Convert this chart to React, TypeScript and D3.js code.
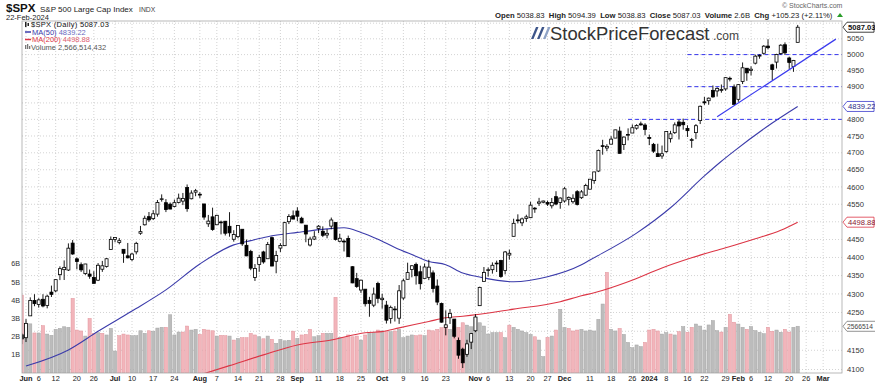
import React from 'react';
import * as d3 from 'd3';

// market holidays inside the window
const holidays = ['2023-06-19', '2023-07-04', '2023-09-04', '2023-11-23', '2023-12-25', '2024-01-01', '2024-01-15', '2024-02-19'];
const firstDay = '2023-05-31';
const calendarEnd = '2024-03-08';
const prevClose = 4205.5; // May 30 close, colours the first volume bar

// daily [open, high, low, close]
const may23 = [[4190.7, 4195.4, 4166.2, 4179.8]];
const jun23 = [
  [4183.0, 4232.4, 4171.6, 4221.0], [4241.0, 4290.7, 4241.0, 4282.4], [4282.0, 4299.3, 4266.8, 4273.8],
  [4271.3, 4288.3, 4263.1, 4283.9], [4285.5, 4299.2, 4263.9, 4267.5], [4268.7, 4298.0, 4261.1, 4293.9],
  [4304.9, 4322.6, 4291.7, 4298.9], [4308.3, 4340.1, 4304.4, 4338.9], [4352.6, 4375.4, 4337.7, 4369.0],
  [4366.3, 4391.8, 4337.9, 4372.6], [4365.3, 4439.2, 4362.6, 4425.8], [4440.0, 4448.5, 4407.4, 4409.6],
  [4396.1, 4400.1, 4367.2, 4388.7], [4380.0, 4386.2, 4360.1, 4365.7], [4355.4, 4382.3, 4351.8, 4381.9],
  [4354.2, 4366.6, 4341.3, 4348.3], [4344.8, 4362.1, 4328.1, 4328.8], [4337.4, 4384.4, 4335.0, 4378.4],
  [4367.5, 4390.4, 4360.2, 4376.9], [4374.9, 4398.4, 4371.9, 4396.4], [4422.4, 4458.5, 4422.4, 4450.4],
];
const jul23 = [
  [4450.5, 4456.5, 4442.3, 4455.6], [4442.0, 4454.1, 4436.6, 4446.8], [4422.6, 4422.6, 4385.1, 4411.6],
  [4404.5, 4440.4, 4397.4, 4399.0], [4394.2, 4412.6, 4389.9, 4409.5], [4415.6, 4443.6, 4408.5, 4439.3],
  [4467.7, 4488.3, 4463.2, 4472.2], [4491.5, 4517.4, 4489.4, 4510.0], [4514.6, 4527.8, 4499.6, 4505.4],
  [4508.9, 4532.9, 4504.9, 4522.8], [4521.8, 4562.3, 4514.6, 4555.0], [4563.9, 4578.4, 4557.5, 4565.7],
  [4554.4, 4564.7, 4527.6, 4534.9], [4550.2, 4555.0, 4535.8, 4536.3], [4543.4, 4563.4, 4541.3, 4554.6],
  [4555.2, 4580.6, 4552.4, 4567.5], [4559.0, 4582.5, 4547.6, 4566.8], [4598.3, 4607.1, 4528.6, 4537.4],
  [4565.8, 4590.2, 4564.0, 4582.2], [4584.8, 4594.2, 4573.1, 4589.0],
];
const aug23 = [
  [4578.8, 4584.6, 4567.5, 4576.7], [4550.9, 4550.9, 4505.8, 4513.4], [4494.3, 4519.5, 4485.5, 4501.9],
  [4514.0, 4540.3, 4474.6, 4478.0], [4491.6, 4519.8, 4491.2, 4518.4], [4498.0, 4503.3, 4464.4, 4499.4],
  [4501.6, 4502.4, 4461.3, 4467.7], [4487.2, 4527.4, 4457.9, 4468.8], [4450.7, 4476.2, 4444.0, 4464.1],
  [4458.1, 4490.3, 4453.4, 4489.7], [4478.9, 4478.9, 4432.2, 4437.9], [4433.8, 4450.0, 4403.6, 4404.3],
  [4416.3, 4421.2, 4364.8, 4370.4], [4344.9, 4381.8, 4335.3, 4369.7], [4380.3, 4407.5, 4360.3, 4399.8],
  [4415.3, 4418.6, 4382.8, 4387.6], [4396.4, 4443.2, 4396.4, 4436.0], [4455.2, 4458.3, 4375.6, 4376.3],
  [4389.4, 4418.5, 4356.3, 4405.7], [4426.0, 4439.6, 4415.0, 4433.3], [4432.8, 4500.1, 4431.7, 4497.6],
  [4500.3, 4521.7, 4493.6, 4514.9], [4517.0, 4532.3, 4507.4, 4507.7],
];
const sep23 = [
  [4530.6, 4541.3, 4501.4, 4515.8], [4510.1, 4514.3, 4496.0, 4496.8], [4490.4, 4490.4, 4442.4, 4465.5],
  [4434.6, 4457.8, 4430.5, 4451.1], [4451.3, 4473.5, 4448.4, 4457.5], [4481.0, 4490.8, 4467.9, 4487.5],
  [4473.3, 4487.1, 4456.8, 4461.9], [4462.7, 4479.4, 4453.5, 4467.4], [4487.8, 4512.0, 4478.7, 4505.1],
  [4498.0, 4498.0, 4447.2, 4450.3], [4445.1, 4466.4, 4442.1, 4453.5], [4445.4, 4449.9, 4416.6, 4444.0],
  [4452.8, 4461.0, 4401.4, 4402.2], [4374.4, 4375.7, 4329.2, 4330.0], [4341.7, 4357.4, 4316.5, 4320.1],
  [4310.6, 4338.5, 4302.7, 4337.4], [4312.9, 4313.0, 4266.0, 4273.5], [4282.6, 4292.1, 4238.6, 4274.5],
  [4269.7, 4317.3, 4264.4, 4299.7], [4328.2, 4333.2, 4274.9, 4288.1],
];
const oct23 = [
  [4284.5, 4300.6, 4260.2, 4288.4], [4269.8, 4281.2, 4220.5, 4229.5], [4233.8, 4268.5, 4220.5, 4263.8],
  [4259.3, 4267.1, 4225.9, 4258.2], [4234.8, 4324.1, 4219.6, 4308.5], [4289.0, 4341.7, 4283.8, 4335.7],
  [4339.8, 4385.5, 4339.6, 4358.2], [4366.6, 4378.6, 4345.3, 4377.0], [4380.9, 4385.9, 4325.4, 4349.6],
  [4360.5, 4377.1, 4312.0, 4327.8], [4342.4, 4383.3, 4342.4, 4373.6], [4345.2, 4393.6, 4337.5, 4373.2],
  [4357.4, 4364.2, 4303.8, 4314.6], [4321.4, 4339.5, 4269.7, 4278.0], [4273.9, 4276.6, 4223.0, 4224.2],
  [4210.4, 4255.8, 4189.2, 4217.0], [4235.8, 4259.4, 4219.4, 4247.7], [4232.4, 4232.4, 4181.4, 4186.8],
  [4176.0, 4183.6, 4127.9, 4137.2], [4152.9, 4156.7, 4103.8, 4117.4], [4139.4, 4177.5, 4132.9, 4166.8],
  [4171.3, 4195.6, 4153.1, 4193.8],
];
const nov23 = [
  [4201.3, 4245.6, 4197.7, 4237.9], [4268.3, 4319.7, 4268.3, 4317.8], [4334.2, 4373.6, 4334.2, 4358.3],
  [4364.3, 4372.2, 4347.5, 4366.0], [4366.2, 4386.3, 4355.4, 4378.4], [4384.4, 4391.2, 4359.8, 4382.8],
  [4391.4, 4393.4, 4343.9, 4347.4], [4364.2, 4418.0, 4353.3, 4415.2], [4406.7, 4421.8, 4393.8, 4411.6],
  [4459.0, 4508.7, 4459.0, 4495.7], [4505.3, 4521.2, 4495.3, 4502.9], [4497.1, 4512.0, 4487.8, 4508.2],
  [4509.6, 4520.1, 4499.7, 4514.0], [4511.7, 4557.1, 4510.4, 4547.4], [4538.8, 4542.1, 4525.5, 4538.2],
  [4553.0, 4568.4, 4545.1, 4556.6], [4555.8, 4560.3, 4552.8, 4559.3], [4554.9, 4560.5, 4545.2, 4550.4],
  [4545.6, 4568.1, 4537.9, 4554.9], [4571.8, 4587.6, 4547.2, 4550.6], [4554.9, 4569.9, 4537.2, 4567.8],
];
const dec23 = [
  [4559.4, 4599.4, 4554.7, 4594.6], [4564.4, 4572.4, 4546.7, 4569.8], [4557.3, 4578.6, 4551.7, 4567.2],
  [4586.2, 4590.7, 4546.5, 4549.3], [4568.8, 4590.9, 4565.2, 4585.6], [4576.2, 4609.2, 4574.1, 4604.4],
  [4593.4, 4623.0, 4593.4, 4622.4], [4618.3, 4643.9, 4609.0, 4643.7], [4646.2, 4709.7, 4643.2, 4707.1],
  [4721.0, 4738.6, 4694.3, 4719.6], [4714.2, 4725.5, 4704.7, 4719.2], [4725.6, 4749.5, 4725.6, 4740.6],
  [4743.7, 4768.7, 4743.7, 4768.4], [4764.7, 4778.0, 4697.8, 4698.4], [4724.3, 4748.7, 4708.4, 4746.8],
  [4753.9, 4772.9, 4736.8, 4754.6], [4758.9, 4784.7, 4758.9, 4774.8], [4773.5, 4785.4, 4768.9, 4781.6],
  [4786.4, 4793.3, 4781.0, 4783.4], [4782.9, 4788.4, 4752.0, 4769.8],
];
const jan24 = [
  [4745.2, 4754.3, 4722.7, 4742.8], [4725.1, 4729.3, 4699.7, 4704.8], [4697.4, 4726.8, 4687.5, 4688.7],
  [4690.6, 4721.5, 4682.1, 4697.2], [4703.7, 4764.5, 4699.8, 4763.5], [4741.9, 4765.5, 4730.4, 4756.5],
  [4759.9, 4790.8, 4756.2, 4783.5], [4792.1, 4798.5, 4739.6, 4780.2], [4791.2, 4802.4, 4769.0, 4783.8],
  [4772.4, 4782.3, 4747.1, 4766.0], [4739.1, 4744.2, 4714.8, 4739.2], [4760.1, 4785.8, 4740.6, 4780.9],
  [4796.3, 4842.1, 4785.9, 4839.8], [4853.4, 4868.4, 4844.1, 4850.4], [4856.8, 4866.5, 4844.4, 4864.6],
  [4888.6, 4903.7, 4865.9, 4868.6], [4886.7, 4898.2, 4869.3, 4894.2], [4888.9, 4906.7, 4881.5, 4891.0],
  [4893.0, 4929.3, 4887.4, 4927.9], [4925.9, 4931.1, 4916.3, 4925.0], [4899.2, 4906.8, 4845.2, 4845.7],
];
const feb24 = [
  [4861.1, 4907.0, 4853.5, 4906.2], [4916.1, 4975.3, 4908.0, 4958.6], [4957.2, 4957.2, 4918.1, 4942.8],
  [4950.2, 4963.1, 4934.9, 4954.2], [4973.1, 4999.9, 4969.1, 4995.1], [4995.2, 5000.4, 4987.1, 4997.9],
  [5004.2, 5030.1, 5000.3, 5026.6], [5026.8, 5048.4, 5016.3, 5021.8], [4967.9, 4971.3, 4920.3, 4953.2],
  [4976.4, 5002.5, 4956.4, 5000.6], [5003.1, 5032.7, 4999.4, 5029.7], [5031.1, 5038.7, 4999.5, 5005.6],
  [4989.3, 4993.7, 4955.0, 4975.5], [4963.0, 4983.2, 4946.0, 4981.8], [5038.8, 5094.4, 5038.8, 5087.0],
];

// volume, billions of shares
const volMay = [4.28];
const volJun = [2.7, 2.7, 2.2, 2.2, 2.6, 2.14, 2.07, 2.4, 2.45, 2.54, 2.51, 4.1, 2.36, 2.31, 2.03, 3.0, 2.18, 2.22, 2.18, 2.09, 2.45];
const volJul = [1.21, 2.05, 2.14, 2.09, 2.05, 2.05, 2.32, 2.18, 2.32, 2.29, 2.47, 2.51, 2.51, 3.2, 2.09, 2.25, 2.25, 2.58, 2.36, 2.4];
const volAug = [2.12, 2.4, 2.36, 2.32, 2.03, 2.07, 2.05, 2.03, 1.81, 1.9, 1.94, 1.94, 2.18, 2.09, 1.99, 1.88, 2.03, 1.85, 1.63, 1.85, 1.77, 1.8, 2.3];
const volSep = [1.9, 2.09, 2.12, 2.4, 1.99, 2.05, 2.18, 2.18, 2.18, 4.16, 1.94, 1.94, 2.09, 1.99, 2.03, 1.81, 2.09, 2.18, 2.22, 2.36];
const volOct = [2.31, 2.27, 2.27, 2.31, 2.4, 1.94, 2.03, 2.09, 2.05, 2.09, 2.05, 2.36, 2.32, 2.4, 2.49, 2.58, 2.4, 2.54, 2.51, 2.76, 2.63, 2.54];
const volNov = [3.04, 2.76, 2.58, 2.14, 2.22, 2.22, 2.22, 1.94, 2.63, 2.51, 2.4, 2.31, 2.22, 2.12, 1.99, 1.81, 0.9, 1.96, 2.03, 2.36, 3.5];
const volDec = [2.5, 2.45, 2.31, 2.36, 2.4, 2.31, 2.36, 2.31, 2.95, 3.79, 5.53, 2.4, 2.31, 2.45, 2.12, 1.68, 1.39, 1.54, 1.45, 1.68];
const volJan = [2.36, 2.4, 2.31, 2.14, 2.22, 2.14, 2.09, 2.27, 2.55, 2.24, 2.51, 2.69, 2.58, 2.36, 2.64, 2.88, 2.33, 2.25, 2.51, 3.22, 2.79];
const volFeb = [2.69, 2.51, 2.4, 2.55, 2.33, 2.24, 2.16, 2.51, 2.29, 2.36, 2.24, 2.4, 2.25, 2.51, 2.57];

// moving averages
const ma50Dates = ['2023-06-01', '2023-06-15', '2023-06-27', '2023-07-10', '2023-07-20', '2023-08-01', '2023-08-11', '2023-08-17',
  '2023-08-23', '2023-09-01', '2023-09-13', '2023-09-19', '2023-09-25', '2023-09-29', '2023-10-05', '2023-10-11', '2023-10-17',
  '2023-10-23', '2023-10-27', '2023-11-02', '2023-11-14', '2023-11-27', '2023-12-07', '2023-12-11', '2023-12-27', '2024-01-09',
  '2024-01-22', '2024-01-26', '2024-01-31', '2024-02-13', '2024-02-22'];
const ma50Values = [4109, 4151, 4200, 4254, 4311, 4382, 4435, 4447, 4458, 4470, 4480, 4483, 4470, 4451, 4428, 4408, 4389,
  4380, 4357, 4346, 4333, 4347, 4380, 4393, 4468, 4540, 4632, 4675, 4705, 4789, 4839.22];
const ma200Dates = ['2023-08-01', '2023-08-10', '2023-08-22', '2023-09-01', '2023-09-14', '2023-09-26', '2023-10-02', '2023-10-06',
  '2023-10-17', '2023-10-23', '2023-10-27', '2023-11-14', '2023-11-30', '2023-12-07', '2023-12-12', '2023-12-22', '2024-01-05',
  '2024-01-17', '2024-01-29', '2024-02-07', '2024-02-15', '2024-02-22'];
const ma200Values = [4086, 4110, 4138, 4164, 4177, 4196, 4199, 4209, 4226, 4236, 4240, 4259, 4279, 4295, 4303, 4333, 4371,
  4399, 4427, 4452, 4476, 4498.88];

// drawn annotations
const levelPrices = [4800, 4900, 5000];
const levelStarts = ['2023-12-22', '2024-01-16', '2024-01-16'];
const trendDates = ['2024-01-25', '2024-03-06'];
const trendPrices = [4808, 5049];

const priceTicks = [4100, 4150, 4200, 4250, 4300, 4350, 4400, 4450, 4500, 4550, 4600, 4650, 4700, 4750, 4800, 4850, 4900, 4950, 5000, 5050, 5100];
const volTicks = [1, 2, 3, 4, 5, 6];
const tickDates = ['2023-06-01', '2023-06-06', '2023-06-12', '2023-06-20', '2023-06-26', '2023-07-03', '2023-07-10', '2023-07-17',
  '2023-07-24', '2023-08-01', '2023-08-07', '2023-08-14', '2023-08-21', '2023-08-28', '2023-09-01', '2023-09-11', '2023-09-18',
  '2023-09-25', '2023-10-02', '2023-10-09', '2023-10-16', '2023-10-23', '2023-11-01', '2023-11-06', '2023-11-13', '2023-11-20',
  '2023-11-27', '2023-12-01', '2023-12-11', '2023-12-18', '2023-12-26', '2024-01-02', '2024-01-08', '2024-01-16', '2024-01-22',
  '2024-01-29', '2024-02-01', '2024-02-06', '2024-02-12', '2024-02-20', '2024-02-26', '2024-03-01'];
const tickLabels = ['Jun', '6', '12', '20', '26', 'Jul', '10', '17', '24', 'Aug', '7', '14', '21', '28', 'Sep', '11', '18', '25',
  'Oct', '9', '16', '23', 'Nov', '6', '13', '20', '27', 'Dec', '11', '18', '26', '2024', '8', '16', '22', '29', 'Feb', '6', '12',
  '20', '26', 'Mar'];

const lastClose = 5087.03;
const lastMa50 = 4839.22;
const lastMa200 = 4498.88;
const lastVolume = 2566514432;

function tradingDays(from: string, to: string): string[] {
  const out: string[] = [];
  const d = new Date(from + 'T00:00:00Z');
  const end = new Date(to + 'T00:00:00Z');
  while (d <= end) {
    const s = d.toISOString().slice(0, 10);
    const wd = d.getUTCDay();
    if (wd !== 0 && wd !== 6 && !holidays.includes(s)) out.push(s);
    d.setUTCDate(d.getUTCDate() + 1);
  }
  return out;
}

const FONT = '"Liberation Sans", Arial, sans-serif';
const box = { left: 22, right: 842, top: 21, bottom: 373 };

const App: React.FC = () => {
  const days = tradingDays(firstDay, calendarEnd);
  const dayIndex = new Map(days.map((d, i) => [d, i] as [string, number]));
  const at = (d: string) => dayIndex.get(d) as number;

  const ohlc = [...may23, ...jun23, ...jul23, ...aug23, ...sep23, ...oct23, ...nov23, ...dec23, ...jan24, ...feb24];
  const vols = [...volMay, ...volJun, ...volJul, ...volAug, ...volSep, ...volOct, ...volNov, ...volDec, ...volJan, ...volFeb];
  const bars = ohlc.map((v, i) => ({
    i, o: v[0], h: v[1], l: v[2], c: v[3], vol: vols[i],
    down: v[3] < (i === 0 ? prevClose : ohlc[i - 1][3]),
  }));

  const x = d3.scaleLinear().domain([1, 183]).range([26, 797.7]);
  const y = d3.scaleLog().domain([4091, 5107]).range([box.bottom, box.top]);
  const yv = d3.scaleLinear().domain([0, 1]).range([box.bottom, box.bottom - 18.2]);

  const maLine = d3.line<[number, number]>()
    .x(d => x(d[0]))
    .y(d => y(d[1]))
    .curve(d3.curveMonotoneX);
  const ma50 = maLine(ma50Dates.map((d, k) => [at(d), ma50Values[k]] as [number, number])) || '';
  const ma200 = maLine(ma200Dates.map((d, k) => [at(d), ma200Values[k]] as [number, number])) || '';

  // value tags on the right axis hide the tick labels underneath them
  const tagYs = [y(lastClose), y(lastMa50), y(lastMa200), yv(lastVolume / 1e9)];
  const freeTicks = priceTicks.filter(p => tagYs.every(t => Math.abs(y(p) - t) > 8.5));

  const tag = (yy: number, w: number) =>
    `M${box.right + 1},${yy} L${box.right + 5},${yy - 5} L${box.right + w},${yy - 5} L${box.right + w},${yy + 5} L${box.right + 5},${yy + 5} Z`;

  const headerParts: [string, boolean][] = [
    ['Open ', true], ['5038.83  ', false], ['High ', true], ['5094.39  ', false], ['Low ', true], ['5038.83  ', false],
    ['Close ', true], ['5087.03  ', false], ['Volume ', true], ['2.6B  ', false], ['Chg ', true], ['+105.23 (+2.11%)', false],
  ];

  return (
    <div style={{ position: 'absolute', left: 0, top: 0, width: 875, height: 385, background: '#fff' }}>
      <svg width={875} height={385} style={{ display: 'block' }} fontFamily={FONT}>
        <defs>
          <clipPath id="plotClip">
            <rect x={box.left} y={box.top} width={box.right - box.left} height={box.bottom - box.top} />
          </clipPath>
        </defs>

        {/* title block */}
        <text x={6} y={12} fontSize={11.5} fontWeight="bold" fill="#111">$SPX</text>
        <text x={40} y={12} fontSize={8} fill="#222">S&amp;P 500 Large Cap Index</text>
        <text x={139} y={12} fontSize={6.8} fill="#444">INDX</text>
        <text x={6} y={19.5} fontSize={7.5} fill="#222">22-Feb-2024</text>

        <text x={782} y={8} fontSize={7} fill="#666">© StockCharts.com</text>
        <text x={495} y={18} fontSize={7.7} fill="#222">
          {headerParts.map(([t, b], k) => (
            <tspan key={k} fontWeight={b ? 'bold' : 'normal'} style={{ whiteSpace: 'pre' }}>{t}</tspan>
          ))}
        </text>
        <path d="M837,17 L840,13 L843,17 Z" fill="#2a9d2a" />

        {/* grid */}
        <g stroke="#c8c8c8" strokeWidth={0.8} strokeDasharray="1,2">
          {priceTicks.map(p => (
            <line key={p} x1={box.left} x2={box.right} y1={y(p)} y2={y(p)} />
          ))}
          {tickDates.map(d => (
            <line key={d} x1={x(at(d))} x2={x(at(d))} y1={box.top} y2={box.bottom} />
          ))}
        </g>

        <g clipPath="url(#plotClip)">
          {/* volume */}
          {bars.map(b => (
            <rect key={'v' + b.i} x={x(b.i) - 1.6} y={yv(b.vol)} width={3.2} height={box.bottom - yv(b.vol)}
              fill={b.down ? '#f2b5bb' : '#bcbcbc'} stroke={b.down ? '#e2949c' : '#a4a4a4'} strokeWidth={0.5} />
          ))}

          <path d={ma200} fill="none" stroke="#dc3545" strokeWidth={1.1} />
          <path d={ma50} fill="none" stroke="#3b3baa" strokeWidth={1.1} />

          {levelPrices.map((p, k) => (
            <line key={p} x1={x(at(levelStarts[k]))} x2={box.right} y1={y(p)} y2={y(p)}
              stroke="#3535ee" strokeWidth={1} strokeDasharray="4,3" />
          ))}

          {/* candles */}
          {bars.map(b => {
            const cx = x(b.i);
            const top = y(Math.max(b.o, b.c));
            const bot = y(Math.min(b.o, b.c));
            return (
              <g key={'c' + b.i}>
                <line x1={cx} x2={cx} y1={y(b.h)} y2={y(b.l)} stroke="#000" strokeWidth={0.9} />
                <rect x={cx - 1.5} y={top} width={3} height={Math.max(bot - top, 0.8)}
                  fill={b.c >= b.o ? '#fff' : '#000'} stroke="#000" strokeWidth={0.8} />
              </g>
            );
          })}

          <line x1={x(at(trendDates[0]))} y1={y(trendPrices[0])} x2={x(at(trendDates[1]))} y2={y(trendPrices[1])}
            stroke="#3b3bee" strokeWidth={1.2} />
        </g>

        {/* frame */}
        <rect x={box.left} y={box.top} width={box.right - box.left} height={box.bottom - box.top}
          fill="none" stroke="#a8a8a8" strokeWidth={0.8} />

        {/* legend */}
        <g fontSize={7.5}>
          <rect x={25} y={22} width={1.5} height={5} fill="#222" />
          <rect x={27.5} y={23} width={1.5} height={3} fill="#222" />
          <text x={31} y={27} fill="#111" letterSpacing={0.3}>$SPX (Daily) {lastClose.toFixed(2)}</text>
          <line x1={25} x2={31} y1={32} y2={32} stroke="#3b3baa" strokeWidth={1.5} />
          <text x={32} y={34.5} fill="#3b3baa">MA(50) <tspan fill="#6a6ac0">{lastMa50.toFixed(2)}</tspan></text>
          <line x1={25} x2={31} y1={39.5} y2={39.5} stroke="#dc3545" strokeWidth={1.5} />
          <text x={32} y={42} fill="#dc3545">MA(200) <tspan fill="#e06070">{lastMa200.toFixed(2)}</tspan></text>
          <rect x={25} y={45} width={1.3} height={4} fill="#777" />
          <rect x={27} y={44} width={1.3} height={5} fill="#777" />
          <rect x={29} y={46} width={1.3} height={3} fill="#777" />
          <text x={31} y={49.5} fill="#555">Volume {d3.format(',')(lastVolume)}</text>
        </g>

        {/* StockPriceForecast logo */}
        <g>
          {[0, 1, 2].map(k => (
            <path key={k} d={`M${531 + k * 6},39 L${536 + k * 6},27 L${538.5 + k * 6},27 L${533.5 + k * 6},39 Z`}
              fill={k === 2 ? '#8fa3c6' : '#3d5589'} />
          ))}
          <text x={550} y={39.5} fontSize={18.4} fill="#333">StockPriceForecast</text>
          <text x={713} y={39.5} fontSize={12} fill="#444">.com</text>
        </g>

        {/* right axis */}
        <g fontSize={7.6} fill="#333">
          {freeTicks.map(p => (
            <text key={p} x={box.right + 5} y={y(p)} dy="0.35em">{p}</text>
          ))}
        </g>
        <g fontSize={7.6}>
          <path d={tag(y(lastClose), 32)} fill="#fff" stroke="#111" strokeWidth={0.8} />
          <text x={box.right + 6} y={y(lastClose)} dy="0.35em" fontWeight="bold" fill="#111">{lastClose.toFixed(2)}</text>
          <path d={tag(y(lastMa50), 32)} fill="#fff" stroke="#3b3bcc" strokeWidth={0.8} />
          <text x={box.right + 6} y={y(lastMa50)} dy="0.35em" fill="#2a2a88">{lastMa50.toFixed(2)}</text>
          <path d={tag(y(lastMa200), 32)} fill="#fff" stroke="#dc3545" strokeWidth={0.8} />
          <text x={box.right + 6} y={y(lastMa200)} dy="0.35em" fill="#8a2030">{lastMa200.toFixed(2)}</text>
          <path d={tag(yv(lastVolume / 1e9), 40)} fill="#fff" stroke="#777" strokeWidth={0.8} />
          <text x={box.right + 5} y={yv(lastVolume / 1e9)} dy="0.35em" fontSize={6.7} fill="#444">{String(lastVolume).slice(0, 7)}</text>
        </g>

        {/* left volume axis */}
        <g fontSize={7.2} fill="#333" textAnchor="end">
          {volTicks.map(v => (
            <text key={v} x={20} y={yv(v)} dy="0.35em">{v}B</text>
          ))}
        </g>

        {/* bottom axis */}
        <g fontSize={7.4} fill="#222" textAnchor="middle">
          {tickDates.map((d, k) => (
            <text key={d} x={x(at(d))} y={381} fontWeight={/^\d{1,2}$/.test(tickLabels[k]) ? 'normal' : 'bold'}>{tickLabels[k]}</text>
          ))}
        </g>
      </svg>
    </div>
  );
};

export default App;
